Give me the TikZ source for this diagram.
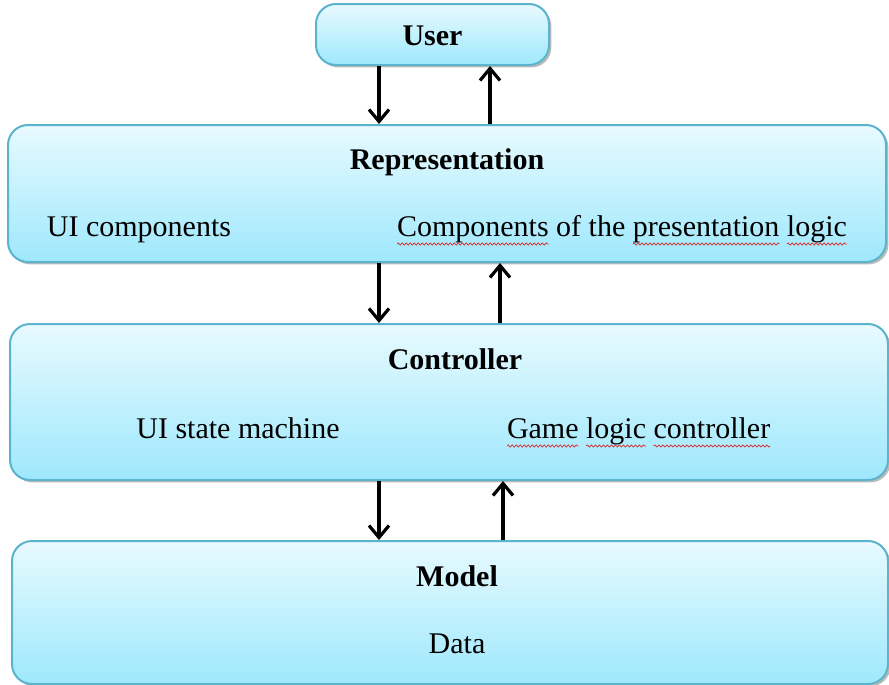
\documentclass[tikz,border=0pt]{standalone}
\usepackage{fontspec}
\setmainfont{Liberation Serif}
\usepackage{tikz}
\usetikzlibrary{arrows.meta, positioning, calc, shadows, decorations.pathmorphing}
\definecolor{layertop}{RGB}{232, 250, 255}
\definecolor{layerbot}{RGB}{158, 232, 252}
\definecolor{layerline}{RGB}{92, 180, 204}
\definecolor{spellred}{RGB}{220, 40, 40}

\begin{document}
\begin{tikzpicture}[x=0.5pt, y=-0.5pt,
    layer/.style={draw=layerline, line width=1pt, rounded corners=10pt,
      top color=layertop, bottom color=layerbot, inner sep=0pt,
      drop shadow={shadow xshift=1.2pt, shadow yshift=-1.2pt, fill=black!45, opacity=0.6}},
    title/.style={font=\fontsize{15}{18}\selectfont\bfseries, anchor=base},
    item/.style={font=\fontsize{15}{18}\selectfont, anchor=base},
    word/.style={font=\fontsize{15}{18}\selectfont, anchor=base west, inner sep=0pt, outer sep=0pt},
    spell/.style={draw=spellred, line width=0.35pt,
      decorate, decoration={snake, amplitude=0.55pt, segment length=2pt}},
    flow/.style={-{Straight Barb[length=6pt, width=10pt, line width=1.6pt]}, line width=1.7pt}]
  \useasboundingbox (0,0) rectangle (889,685);

  % === Layers ===
  \node[layer, minimum width=116.5pt, minimum height=30.5pt] (user) at (432.5, 34.5) {};
  \node[layer, minimum width=439pt, minimum height=68.5pt] (rep) at (447, 193.5) {};
  \node[layer, minimum width=439pt, minimum height=78pt] (ctrl) at (449, 402) {};
  \node[layer, minimum width=438pt, minimum height=71.5pt] (model) at (450, 612.5) {};

  % Texts
  \node[title] (usertxt) at (432.5, 45) {User};
  \node[title] (reptxt) at (447, 169) {Representation};
  \node[item] (uicomp) at (139, 236) {UI components};
  \node[word] (pw1) at (397, 236) {Components};
  \node[word] (pw2) at ([xshift=3.75pt]pw1.base east) {of};
  \node[word] (pw3) at ([xshift=3.75pt]pw2.base east) {the};
  \node[word] (pw4) at ([xshift=3.75pt]pw3.base east) {presentation};
  \node[word] (pw5) at ([xshift=3.75pt]pw4.base east) {logic};
  \node[title] (ctrltxt) at (455, 369) {Controller};
  \node[item] (uistate) at (238, 438) {UI state machine};
  \node[word] (gw1) at (507, 438) {Game};
  \node[word] (gw2) at ([xshift=3.75pt]gw1.base east) {logic};
  \node[word] (gw3) at ([xshift=3.75pt]gw2.base east) {controller};
  \node[title] (modeltxt) at (457, 586) {Model};
  \node[item] (data) at (457, 653) {Data};

  % Spelling marks
  \foreach \w in {pw1, pw4, pw5, gw1, gw2, gw3}
    \draw[spell] ([yshift=-4pt]\w.base west) -- ([yshift=-4pt]\w.base east);

  % Lanes for the arrows
  \coordinate (down) at (379, 0);
  \coordinate (up1) at (490, 0);
  \coordinate (up2) at (500, 0);
  \coordinate (up3) at (503, 0);

  % === Arrows ===
  \draw[flow] (user.south -| down) -- (rep.north -| down);
  \draw[flow] (rep.north -| up1) -- (user.south -| up1);
  \draw[flow] (rep.south -| down) -- (ctrl.north -| down);
  \draw[flow] (ctrl.north -| up2) -- (rep.south -| up2);
  \draw[flow] (ctrl.south -| down) -- (model.north -| down);
  \draw[flow] (model.north -| up3) -- (ctrl.south -| up3);
\end{tikzpicture}
\end{document}
